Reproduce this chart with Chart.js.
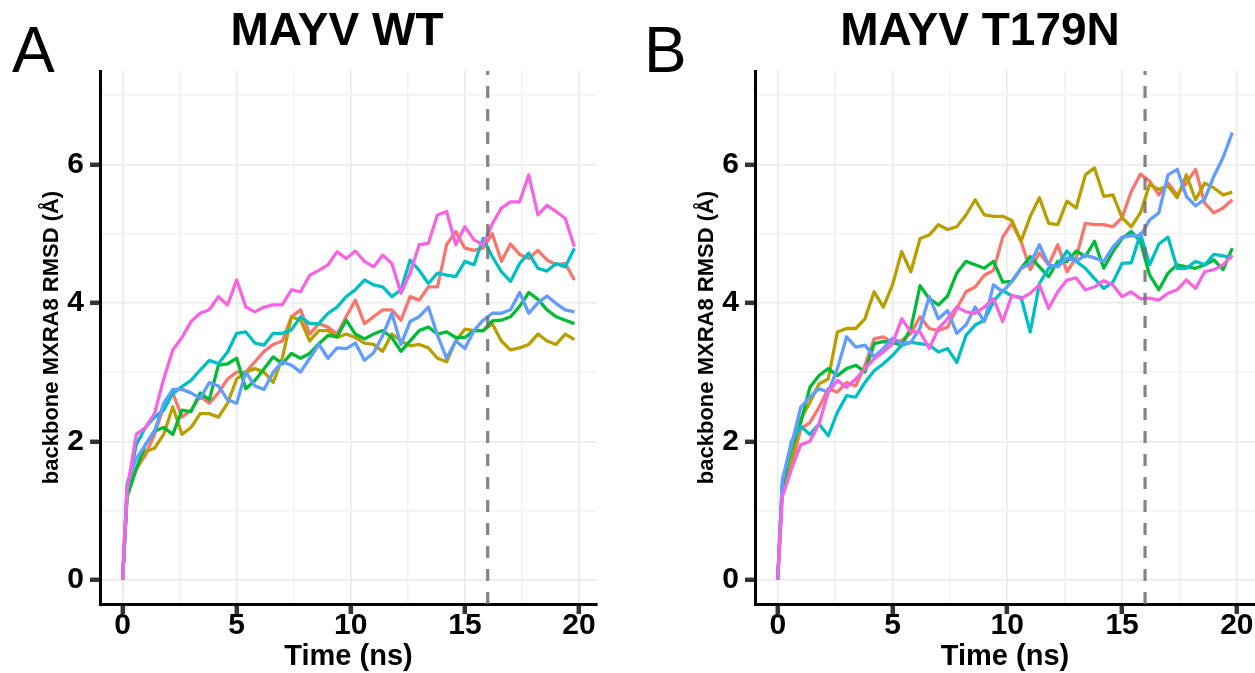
<!DOCTYPE html>
<html>
<head>
<meta charset="utf-8">
<script src="https://cdn.jsdelivr.net/npm/chart.js@4.4.1/dist/chart.umd.min.js"></script>
<style>
  html, body { margin: 0; padding: 0; background: #ffffff; }
  #wrap { position: relative; width: 1255px; height: 673px; overflow: hidden; background: #fff; }
  canvas { position: absolute; top: 0; }
  #c1 { left: 0px; }
  #c2 { left: 627px; }
</style>
</head>
<body>
<div id="wrap">
  <canvas id="c1" width="627" height="673"></canvas>
  <canvas id="c2" width="628" height="673"></canvas>
</div>
<script>
// ---------------- data ----------------
const times = [0,0.2,0.6,1.0,1.4,1.8,2.2,2.6,3.0,3.4,3.8,4.2,4.6,5.0,5.4,5.8,6.2,6.6,7.0,7.4,7.8,8.2,8.6,9.0,9.4,9.8,
  10.2,10.6,11.0,11.4,11.8,12.2,12.6,13.0,13.4,13.8,14.2,14.6,15.0,15.4,15.8,16.2,16.6,17.0,17.4,17.8,18.2,18.6,19.0,19.4,19.8];

const seriesNames = ['rep1','rep2','rep3','rep4','rep5','rep6'];
const seriesColors = ['#F8766D','#B79F00','#00BA38','#00BFC4','#619CFF','#F564E3'];

// Panel A: MAYV WT
const wtRed   = [0,1.25,1.6,1.8,2.1,2.5,2.7,2.35,2.45,2.65,2.55,2.7,2.9,3.0,3.0,3.15,3.3,3.4,3.45,3.8,3.9,3.55,3.7,3.65,3.55,3.8,
  4.04,3.7,3.8,3.9,3.9,3.75,4.09,4.04,4.23,4.23,4.84,5.03,4.79,4.76,4.79,5.0,4.6,4.85,4.7,4.64,4.76,4.62,4.55,4.57,4.33];
const wtOlive = [0,1.35,1.6,1.85,1.9,2.1,2.5,2.1,2.2,2.4,2.4,2.35,2.55,2.9,3.0,3.05,3.0,2.85,3.2,3.8,3.75,3.45,3.6,3.6,3.5,3.55,
  3.5,3.42,3.4,3.3,3.55,3.45,3.38,3.4,3.35,3.2,3.15,3.45,3.62,3.6,3.6,3.7,3.45,3.32,3.35,3.4,3.55,3.45,3.4,3.55,3.47];
const wtGreen = [0,1.2,1.6,1.95,2.15,2.2,2.1,2.45,2.43,2.7,2.6,3.1,3.12,3.2,2.76,2.88,3.05,3.22,3.12,3.27,3.2,3.27,3.41,3.53,3.51,3.75,
  3.55,3.48,3.55,3.6,3.5,3.3,3.45,3.6,3.65,3.55,3.58,3.5,3.5,3.6,3.6,3.74,3.75,3.8,3.95,4.15,4.05,3.9,3.8,3.75,3.7];
const wtCyan  = [0,1.3,1.95,2.2,2.35,2.45,2.69,2.79,2.88,3.03,3.17,3.12,3.29,3.56,3.58,3.42,3.39,3.56,3.56,3.61,3.8,3.7,3.7,3.85,3.94,4.09,
  4.19,4.33,4.26,4.23,4.09,4.19,4.62,4.47,4.28,4.43,4.4,4.38,4.6,4.55,4.93,4.67,4.45,4.31,4.57,4.72,4.5,4.46,4.57,4.52,4.79];
const wtBlue  = [0,1.4,1.75,1.95,2.15,2.55,2.75,2.75,2.7,2.62,2.85,2.8,2.6,2.55,3.0,2.8,2.75,3.0,3.15,3.1,3.0,3.2,3.4,3.2,3.35,3.34,
  3.42,3.17,3.28,3.53,3.85,3.4,3.73,3.8,3.94,3.53,3.2,3.45,3.34,3.6,3.75,3.85,3.85,3.9,4.15,3.85,4.0,4.1,3.99,3.9,3.87];
const wtPink  = [0,1.3,2.1,2.2,2.4,2.9,3.32,3.5,3.73,3.85,3.9,4.09,3.97,4.33,3.94,3.87,3.94,3.97,3.97,4.19,4.16,4.4,4.47,4.55,4.74,4.64,
  4.75,4.6,4.52,4.69,4.57,4.14,4.43,4.84,4.86,5.27,5.32,4.84,5.1,4.91,4.84,5.14,5.37,5.46,5.46,5.85,5.27,5.41,5.32,5.22,4.81];

// Panel B: MAYV T179N
const mtRed   = [0,1.35,1.65,2.18,2.27,2.49,2.76,2.71,2.85,2.8,3.1,3.48,3.51,3.43,3.46,3.56,3.8,3.63,3.6,3.65,3.92,4.16,4.23,4.4,4.47,4.95,
  5.15,4.89,4.48,4.72,4.55,4.84,4.45,4.65,5.15,5.13,5.13,5.1,5.23,5.61,5.86,5.76,5.56,5.73,5.56,5.73,5.93,5.44,5.3,5.37,5.49];
const mtOlive = [0,1.3,1.69,2.32,2.56,2.83,2.9,3.58,3.63,3.63,3.77,4.16,3.94,4.26,4.74,4.45,4.93,4.98,5.13,5.06,5.1,5.27,5.49,5.27,5.25,5.25,
  5.19,4.89,5.25,5.52,5.15,5.13,5.47,5.37,5.85,5.95,5.54,5.56,5.23,5.1,5.3,5.71,5.64,5.69,5.52,5.85,5.49,5.73,5.66,5.56,5.6];
const mtGreen = [0,1.35,1.9,2.27,2.78,2.95,3.05,2.95,3.05,3.1,3.0,3.41,3.44,3.43,3.39,3.63,4.25,4.06,3.97,4.1,4.43,4.6,4.55,4.5,4.6,4.3,
  4.31,4.5,4.67,4.52,4.38,4.6,4.6,4.75,4.67,4.89,4.5,4.74,4.93,5.03,4.89,4.4,4.19,4.43,4.55,4.52,4.5,4.55,4.62,4.48,4.79];
const mtCyan  = [0,1.4,2.0,2.22,2.1,2.25,2.08,2.42,2.66,2.64,2.85,3.02,3.12,3.24,3.39,3.43,3.41,3.39,3.29,3.34,3.14,3.53,3.68,3.75,4.02,4.18,
  4.1,4.08,3.58,4.28,4.5,4.55,4.75,4.6,4.5,4.35,4.21,4.3,4.57,4.58,5.0,4.55,4.85,4.95,4.5,4.5,4.6,4.55,4.7,4.68,4.65];
const mtBlue  = [0,1.45,1.95,2.49,2.64,2.76,2.71,3.05,3.51,3.36,3.39,3.22,3.34,3.49,3.41,3.43,3.64,4.09,3.77,3.89,3.56,3.68,3.94,3.73,4.26,4.16,
  4.31,4.5,4.57,4.84,4.55,4.52,4.65,4.6,4.69,4.65,4.6,4.81,4.95,4.97,4.97,5.2,5.3,5.85,5.93,5.54,5.4,5.5,5.83,6.1,6.46];
const mtPink  = [0,1.2,1.6,1.95,2.0,2.25,2.71,2.88,2.78,2.9,3.05,3.19,3.29,3.41,3.77,3.58,3.58,3.34,3.63,3.77,3.94,3.87,3.85,3.94,4.06,3.73,
  4.11,4.06,4.14,4.26,3.92,4.16,4.33,4.36,4.19,4.23,4.32,4.26,4.09,4.16,4.06,4.07,4.04,4.14,4.19,4.33,4.21,4.45,4.48,4.55,4.69];

const cutoffTime = 16;

const xMajorTicks = [0,5,10,15,20];
const xMajorLabels = ['0','5','10','15','20'];
const xMinorTicks = [2.5,7.5,12.5,17.5];
const yMajorTicks = [0,2,4,6];
const yMajorLabels = ['0','2','4','6'];
const yMinorTicks = [1,3,5,7];

const xLimits = [-0.99, 20.79];
const yLimits = [-0.35, 7.35];

const panelTitles = ['MAYV WT', 'MAYV T179N'];
const panelLetters = ['A', 'B'];
const xTitle = 'Time (ns)';
const yTitle = 'backbone MXRA8 RMSD (Å)';

// ---------------- chart building ----------------
const FONT = '"Liberation Sans", Arial, Helvetica, sans-serif';
Chart.defaults.font.family = FONT;

const panelText = {
  id: 'panelText',
  afterDraw(chart, args, opts) {
    const c = chart.ctx;
    c.save();
    c.fillStyle = '#000';
    c.textBaseline = 'alphabetic';
    c.textAlign = 'left';
    c.font = '64px ' + FONT;
    c.fillText(opts.letter, opts.letterX, opts.letterY);
    c.textAlign = 'center';
    c.font = 'bold 46px ' + FONT;
    c.fillText(opts.title, opts.titleX, opts.titleY);
    c.restore();
  }
};

function sortedTicks(a, b) { return a.concat(b).sort((p, q) => p - q).map(v => ({ value: v })); }

function buildChart(canvasId, seriesValues, idx, pad, textPos) {
  const datasets = seriesValues.map((vals, i) => ({
    label: seriesNames[i],
    data: times.map((t, k) => ({ x: t, y: vals[k] })),
    borderColor: seriesColors[i],
    backgroundColor: seriesColors[i],
    borderWidth: 3.3,
    pointRadius: 0,
    tension: 0,
    borderJoinStyle: 'round',
    fill: false,
    order: seriesValues.length - i
  }));
  datasets.push({
    label: 'cutoff',
    data: [{ x: cutoffTime, y: yLimits[0] }, { x: cutoffTime, y: yLimits[1] }],
    borderColor: 'rgba(110,110,110,0.85)',
    borderWidth: 3.2,
    borderDash: [12, 11],
    pointRadius: 0,
    fill: false,
    order: 0
  });

  return new Chart(document.getElementById(canvasId), {
    type: 'line',
    data: { datasets },
    plugins: [panelText],
    options: {
      responsive: false,
      animation: false,
      devicePixelRatio: 1,
      layout: { padding: pad },
      plugins: {
        legend: { display: false },
        tooltip: { enabled: false },
        title: { display: false },
        panelText: {
          letter: panelLetters[idx], letterX: textPos.letterX, letterY: 72,
          title: panelTitles[idx], titleX: textPos.titleX, titleY: 45
        }
      },
      scales: {
        x: {
          type: 'linear',
          min: xLimits[0], max: xLimits[1],
          afterBuildTicks: s => { s.ticks = sortedTicks(xMajorTicks, xMinorTicks); },
          afterFit: s => { s.height = 69; },
          ticks: {
            autoSkip: false, maxRotation: 0, minRotation: 0,
            color: '#000',
            padding: -3,
            font: { size: 30, weight: 'bold', lineHeight: 1 },
            callback: v => { const i = xMajorTicks.indexOf(v); return i >= 0 ? xMajorLabels[i] : ''; }
          },
          grid: {
            drawOnChartArea: true, drawTicks: true,
            color: c => (c.tick && xMajorTicks.includes(c.tick.value)) ? '#EAEAEA' : '#F1F1F1',
            lineWidth: 1.6,
            tickLength: 10,
            tickWidth: 4.5,
            tickColor: c => (c.tick && xMajorTicks.includes(c.tick.value)) ? '#333333' : 'rgba(0,0,0,0)'
          },
          border: { display: true, color: '#000', width: 3 },
          title: {
            display: true, text: xTitle, color: '#000',
            font: { size: 29, weight: 'bold', lineHeight: 1 },
            padding: { top: 0, bottom: 1.5 }
          }
        },
        y: {
          type: 'linear',
          min: yLimits[0], max: yLimits[1],
          afterBuildTicks: s => { s.ticks = sortedTicks(yMajorTicks, yMinorTicks); },
          afterFit: s => { s.width = 100; },
          ticks: {
            autoSkip: false,
            color: '#000',
            padding: 6,
            font: { size: 30, weight: 'bold', lineHeight: 1 },
            callback: v => { const i = yMajorTicks.indexOf(v); return i >= 0 ? yMajorLabels[i] : ''; }
          },
          grid: {
            drawOnChartArea: true, drawTicks: true,
            color: c => (c.tick && yMajorTicks.includes(c.tick.value)) ? '#EAEAEA' : '#F1F1F1',
            lineWidth: 1.6,
            tickLength: 10,
            tickWidth: 4.5,
            tickColor: c => (c.tick && yMajorTicks.includes(c.tick.value)) ? '#333333' : 'rgba(0,0,0,0)'
          },
          border: { display: true, color: '#000', width: 3 },
          title: {
            display: true, text: yTitle, color: '#000',
            font: { size: 22, weight: 'bold', lineHeight: 1 },
            padding: { top: 41, bottom: 0 }
          }
        }
      }
    }
  });
}

buildChart('c1', [wtRed, wtOlive, wtGreen, wtCyan, wtBlue, wtPink], 0,
  { top: 71, left: 0, right: 30, bottom: 0 }, { letterX: 12, titleX: 337 });
buildChart('c2', [mtRed, mtOlive, mtGreen, mtCyan, mtBlue, mtPink], 1,
  { top: 71, left: 28, right: 0, bottom: 0 }, { letterX: 17, titleX: 353 });
</script>
</body>
</html>
